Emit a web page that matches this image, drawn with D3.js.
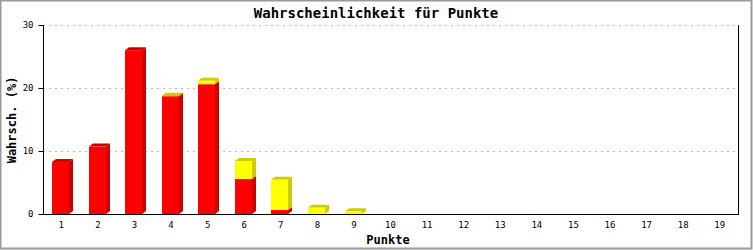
<!doctype html>
<html>
<head>
<meta charset="utf-8"/>
<script src="https://cdnjs.cloudflare.com/ajax/libs/d3/7.8.5/d3.min.js"></script>
<style>
  body { margin: 0; background: #fff; }
  text { font-family: "DejaVu Sans Mono", "Liberation Mono", monospace; }
</style>
</head>
<body>
<svg id="chart" width="753" height="250"></svg>
<script>
var punkte = ["1","2","3","4","5","6","7","8","9","10","11","12","13","14","15","16","17","18","19"];
var rot =  [8.25, 10.7, 26.0, 18.7, 20.6, 5.55, 0.63, 0, 0, 0, 0, 0, 0, 0, 0, 0, 0, 0, 0];
var gelb = [0, 0, 0, 0.08, 0.55, 2.85, 4.8, 1.0, 0.45, 0, 0, 0, 0, 0, 0, 0, 0, 0, 0];
var yTicks = [0, 10, 20, 30];

var svg = d3.select("#chart");

// outer frame
svg.append("rect").attr("x", 0.5).attr("y", 0.5).attr("width", 751).attr("height", 248)
  .attr("fill", "#fff").attr("stroke", "#999").attr("stroke-width", 2);

var pLeft = 43, pRight = 738, pTop = 25, pBottom = 214;

var x = d3.scaleBand().domain(punkte).range([pLeft, pRight]);
var y = d3.scaleLinear().domain([0, 30]).range([pBottom, pTop]);

// grid
svg.append("g").selectAll("line").data(yTicks.filter(function (d) { return d > 0; }))
  .enter().append("line")
  .attr("x1", pLeft).attr("x2", pRight)
  .attr("y1", function (d) { return y(d) + 0.5; }).attr("y2", function (d) { return y(d) + 0.5; })
  .attr("stroke", "#bbb").attr("stroke-dasharray", "2,4");

// bars (3d stacked)
var dx = 4, dy = 3, frontW = 17;
var serien = [
  { werte: rot, front: "#ff0000", dunkel: "#cc0000" },
  { werte: gelb, front: "#ffff00", dunkel: "#cccc00" }
];
var bars = svg.append("g");
punkte.forEach(function (p, i) {
  var base = 0;
  serien.forEach(function (s) {
    var v = s.werte[i];
    if (v <= 0) return;
    var x0 = Math.round(x(p) + 9), x1 = x0 + frontW;
    var y0 = y(base), y1 = y(base + v);
    bars.append("path")
      .attr("d", "M" + x1 + "," + y0 + "L" + (x1 + dx) + "," + (y0 - dy) + "L" + (x1 + dx) + "," + (y1 - dy) + "L" + x1 + "," + y1 + "Z")
      .attr("fill", s.dunkel);
    bars.append("path")
      .attr("d", "M" + x0 + "," + y1 + "L" + (x0 + dx) + "," + (y1 - dy) + "L" + (x1 + dx) + "," + (y1 - dy) + "L" + x1 + "," + y1 + "Z")
      .attr("fill", s.dunkel);
    bars.append("rect")
      .attr("x", x0).attr("y", y1).attr("width", frontW).attr("height", y0 - y1)
      .attr("fill", s.front);
    base += v;
  });
});

// axes
var yAxis = d3.axisLeft(y).tickValues(yTicks).tickSize(5).tickPadding(5).tickFormat(d3.format("d"));
var gy = svg.append("g").attr("transform", "translate(" + (pLeft + 0.5) + ",0)").call(yAxis);
gy.select(".domain").attr("stroke", "#000").attr("d", "M0," + pTop + "V" + pBottom);
gy.selectAll("text").attr("font-size", 9).attr("font-family", "DejaVu Sans Mono");

var xAxis = d3.axisBottom(x).tickSize(0).tickPadding(7);
var gx = svg.append("g").attr("transform", "translate(0," + (pBottom + 0.5) + ")").call(xAxis);
gx.select(".domain").attr("stroke", "#000").attr("d", "M" + pLeft + ",0H" + pRight);
gx.selectAll("text").attr("font-size", 9).attr("font-family", "DejaVu Sans Mono");

svg.append("line").attr("x1", pRight + 0.5).attr("x2", pRight + 0.5).attr("y1", pTop).attr("y2", pBottom + 1)
  .attr("stroke", "#000");

// titles
svg.append("text").attr("x", 376).attr("y", 18).attr("text-anchor", "middle")
  .attr("font-size", 14).attr("font-weight", "bold").text("Wahrscheinlichkeit für Punkte");
svg.append("text").attr("x", 388).attr("y", 244).attr("text-anchor", "middle")
  .attr("font-size", 12).attr("font-weight", "bold").text("Punkte");
svg.append("text").attr("transform", "translate(16,120) rotate(-90)").attr("text-anchor", "middle")
  .attr("font-size", 12).attr("font-weight", "bold").text("Wahrsch. (%)");
</script>
</body>
</html>
